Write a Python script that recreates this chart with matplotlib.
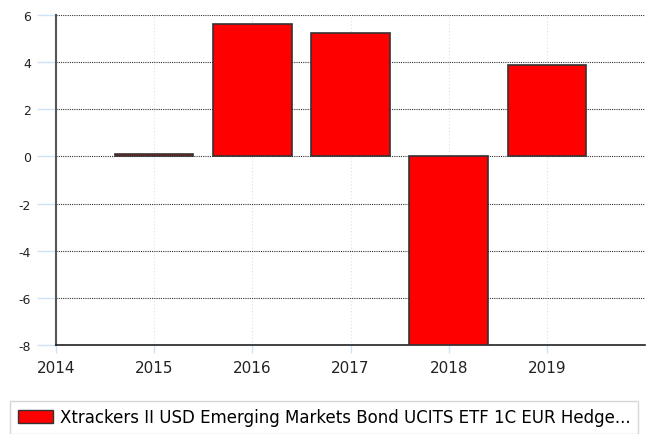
import matplotlib
matplotlib.use("Agg")
import matplotlib.pyplot as plt
from matplotlib.patches import Patch

years = [2015, 2016, 2017, 2018, 2019]
returns = [0.1, 5.62, 5.24, -8.0, 3.88]
x_ticks = [2014, 2015, 2016, 2017, 2018, 2019]
y_ticks = [-8, -6, -4, -2, 0, 2, 4, 6]
label = "Xtrackers II USD Emerging Markets Bond UCITS ETF 1C EUR Hedge..."

plt.rcParams["axes.unicode_minus"] = False

fig = plt.figure(figsize=(6.52, 4.35), dpi=100)
ax = fig.add_axes([56 / 652, 1 - 346 / 435, (645 - 56) / 652, (346 - 16) / 435])

ax.bar(years, returns, width=0.8, color="#ff0000", edgecolor="#333333", linewidth=1.2, zorder=3)

ax.set_xlim(2014, 2020)
ax.set_ylim(-8, 6)
ax.set_xticks(x_ticks)
ax.set_yticks(y_ticks)
ax.tick_params(axis="x", labelsize=11, colors="#cfe3f7", labelcolor="#222222", length=6, width=1, pad=5)
ax.tick_params(axis="y", labelsize=9, colors="#cfe3f7", labelcolor="#222222", length=14, width=1, pad=4)

ax.yaxis.grid(True, linestyle=(0, (1, 1)), color="#333333", linewidth=0.8, zorder=1)
ax.xaxis.grid(True, linestyle=(0, (1, 2)), color="#cfe3f7", linewidth=0.8, zorder=1)

for s in ["top", "right"]:
    ax.spines[s].set_visible(False)
ax.spines["left"].set_color("#555555")
ax.spines["left"].set_linewidth(1.5)
ax.spines["bottom"].set_color("#222222")
ax.spines["bottom"].set_linewidth(1.2)

handle = Patch(facecolor="#ff0000", edgecolor="#333333", linewidth=1)
leg = fig.legend([handle], [label], loc="upper left", bbox_to_anchor=(10 / 652, 1 - 402 / 435),
                 frameon=True, fancybox=False, fontsize=12, handlelength=2.1,
                 handleheight=0.85, borderpad=0.45, borderaxespad=0, handletextpad=0.45)
leg.get_frame().set_edgecolor("#cccccc")
leg.get_frame().set_linewidth(1)

fig.savefig("out.png", dpi=100)
